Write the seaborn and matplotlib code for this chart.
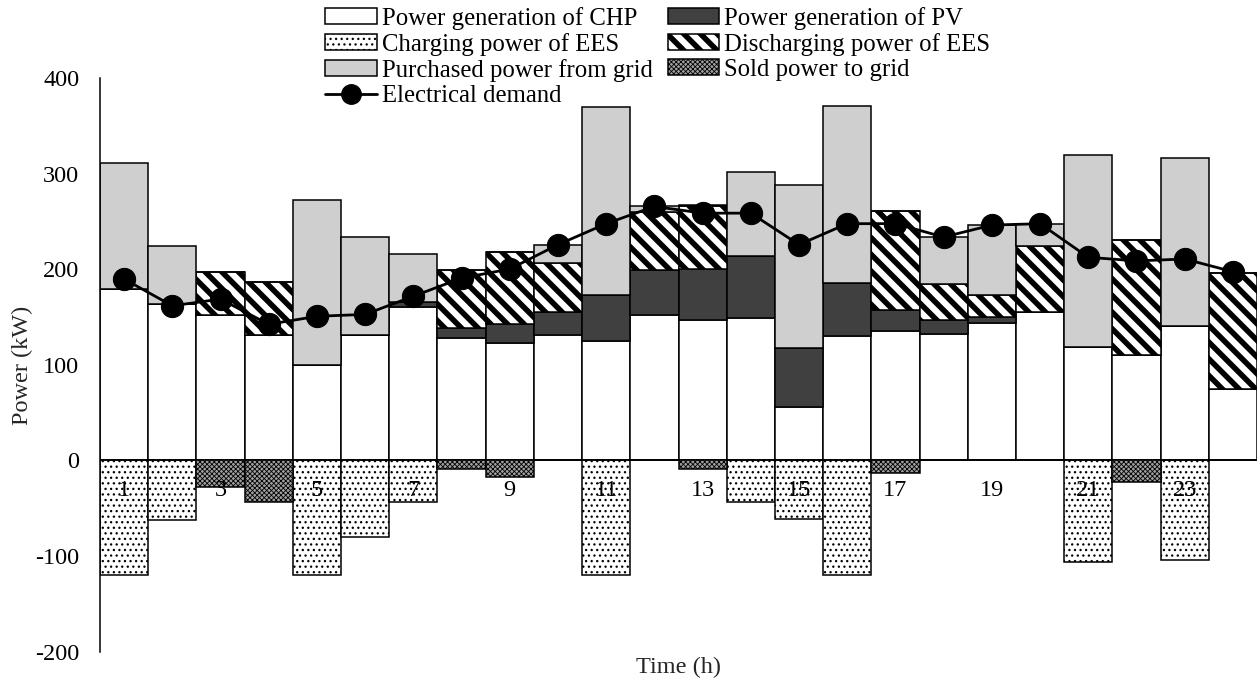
import numpy as np
import pandas as pd
import matplotlib
matplotlib.use("Agg")
import matplotlib.pyplot as plt
import seaborn as sns
from matplotlib.patches import Patch
from matplotlib.lines import Line2D

hours = list(range(1, 25))
chp = [180, 163.5, 152, 131, 100, 131, 161, 128, 123, 131.4, 125, 152,
       147, 149.5, 56, 130, 135.6, 132.5, 143.6, 156, 119, 110.5, 141, 74.5]
pv = [0, 0, 0, 0, 0, 0, 4.5, 10.4, 19.6, 24.6, 48, 47,
      53, 64.5, 61.5, 55.5, 22, 14.5, 7, 0, 0, 0, 0, 0]
discharge = [0, 0, 45, 56, 0, 0, 0, 61.1, 75.4, 50.5, 0, 61.5,
             66, 0, 0, 0, 103.4, 38, 22.4, 68.6, 0, 120.5, 0, 121.5]
grid_buy = [132, 61.5, 0, 0, 173, 103, 51, 0, 0, 19.5, 197.5, 5.5,
            2, 88, 171, 185.5, 0, 49, 74, 23.4, 201, 0, 175.7, 0]
charge = [-120, -62, 0, 0, -120, -80.6, -43.6, 0, 0, 0, -120, 0,
          0, -43, -61, -120, 0, 0, 0, 0, -106, 0, -104, 0]
sold = [0, 0, -28, -43.6, 0, 0, 0, -9, -17.8, 0, 0, 0,
        -8.7, 0, 0, 0, -13, 0, 0, 0, 0, -23, 0, 0]
demand = [190, 162, 169, 142.6, 151, 153, 172, 191, 200.5, 226, 248, 266,
          259, 259, 226, 248, 248, 234, 246.5, 248, 212.8, 209, 211, 197.7]
xtick_labels = [str(h) for h in range(1, 25, 2)]
yticks = [-200, -100, 0, 100, 200, 300, 400]

labels = ["Power generation of CHP", "Power generation of PV",
          "Charging power of EES", "Discharging power of EES",
          "Purchased power from grid", "Sold power to grid",
          "Electrical demand"]

sns.set_theme(style="white")
plt.rcParams["font.family"] = ["Liberation Serif", "DejaVu Serif"]
plt.rcParams["hatch.color"] = "black"

FS = 17.5

df = pd.DataFrame({"hour": hours, "chp": chp, "pv": pv, "dis": discharge,
                   "grid": grid_buy, "charge": charge, "sold": sold,
                   "demand": demand})

fig = plt.figure(figsize=(12.6, 6.86), dpi=100)
ax = fig.add_axes([100 / 1260, 1 - 651.5 / 686, 1157 / 1260, (651.5 - 78.5) / 686])

edge_kw = dict(edgecolor="black", linewidth=1.1)

styles = {
    "chp": dict(color="white", hatch=None, hlw=1.0),
    "pv": dict(color="#404040", hatch=None, hlw=1.0),
    "charge": dict(color="white", hatch="...", hlw=0.9),
    "dis": dict(color="white", hatch="\\\\", hlw=4.0),
    "grid": dict(color="#cfcfcf", hatch=None, hlw=1.0),
    "sold": dict(color="#a0a0a0", hatch="xxxxxxx", hlw=0.6),
}


def draw(col, bottom):
    st = styles[col]
    n_before = len(ax.patches)
    with plt.rc_context({"hatch.linewidth": st["hlw"]}):
        kw = dict(edge_kw)
        if st["hatch"]:
            kw["hatch"] = st["hatch"]
        sns.barplot(data=df, x="hour", y=col, native_scale=True, width=1,
                    color=st["color"], saturation=1, errorbar=None,
                    bottom=bottom, ax=ax, **kw)
        for p in ax.patches[n_before:]:
            p.set_facecolor(st["color"])
            if hasattr(p, "set_hatch_linewidth"):
                p.set_hatch_linewidth(st["hlw"])


b0 = np.zeros(24)
draw("chp", b0)
b1 = b0 + np.array(chp)
draw("pv", b1)
b2 = b1 + np.array(pv)
draw("dis", b2)
b3 = b2 + np.array(discharge)
draw("grid", b3)
draw("charge", b0)
draw("sold", b0)

sns.lineplot(data=df, x="hour", y="demand", color="black", linewidth=2,
             marker="o", markersize=16, markeredgecolor="black", ax=ax,
             zorder=5)

ax.set_axisbelow(False)
ax.set_xlim(0.5, 24.5)
ax.set_ylim(-200, 400)
ax.set_yticks(yticks)
ax.set_yticklabels([str(v) for v in yticks])
ax.set_xticks(list(range(1, 25, 2)))
ax.set_xticklabels(xtick_labels)
ax.spines["bottom"].set_position(("data", 0))
ax.spines["bottom"].set_visible(False)
for s in ["top", "right"]:
    ax.spines[s].set_visible(False)
ax.spines["left"].set_color("black")
ax.spines["left"].set_linewidth(1.1)
ax.tick_params(axis="x", length=0, pad=14, colors="black", labelsize=FS)
ax.tick_params(axis="y", length=0, pad=15, colors="black", labelsize=FS)
ax.xaxis.set_zorder(10)
ax.set_xlabel("")
ax.set_ylabel("")
ax.text(-0.067, 0.5, "Power (kW)", transform=ax.transAxes, rotation=90,
        ha="center", va="center", fontsize=FS)
ax.text(0.5, -0.028, "Time (h)", transform=ax.transAxes, ha="center",
        va="center", fontsize=FS)
ax.grid(False)


def ph(col):
    st = styles[col]
    with plt.rc_context({"hatch.linewidth": st["hlw"]}):
        p = Patch(facecolor=st["color"], edgecolor="black", linewidth=1.1,
                  hatch=st["hatch"])
    if hasattr(p, "set_hatch_linewidth"):
        p.set_hatch_linewidth(st["hlw"])
    return p


keys = ["chp", "charge", "grid", None, "pv", "dis", "sold"]
h_dem = Line2D([], [], color="black", linewidth=2, marker="o", markersize=14)
handles = [ph(k) if k else h_dem for k in keys]
labs = [labels[0], labels[2], labels[4], labels[6], labels[1], labels[3], labels[5]]
leg = fig.legend(handles, labs, loc="upper left",
                 bbox_to_anchor=(320 / 1260, 1 - 2 / 686),
                 ncol=2, frameon=False, fontsize=17.8, handlelength=2.1,
                 handleheight=0.6, handletextpad=0.2, columnspacing=0.6,
                 labelspacing=0.12, borderaxespad=0, borderpad=0.2)
patches = [h for h in leg.legend_handles if isinstance(h, Patch)]
pkeys = [k for k in keys if k]
for p, k in zip(patches, pkeys):
    if hasattr(p, "set_hatch_linewidth"):
        p.set_hatch_linewidth(styles[k]["hlw"])
for t in leg.get_texts():
    t.set_color("black")

fig.savefig("out.png", dpi=100)
